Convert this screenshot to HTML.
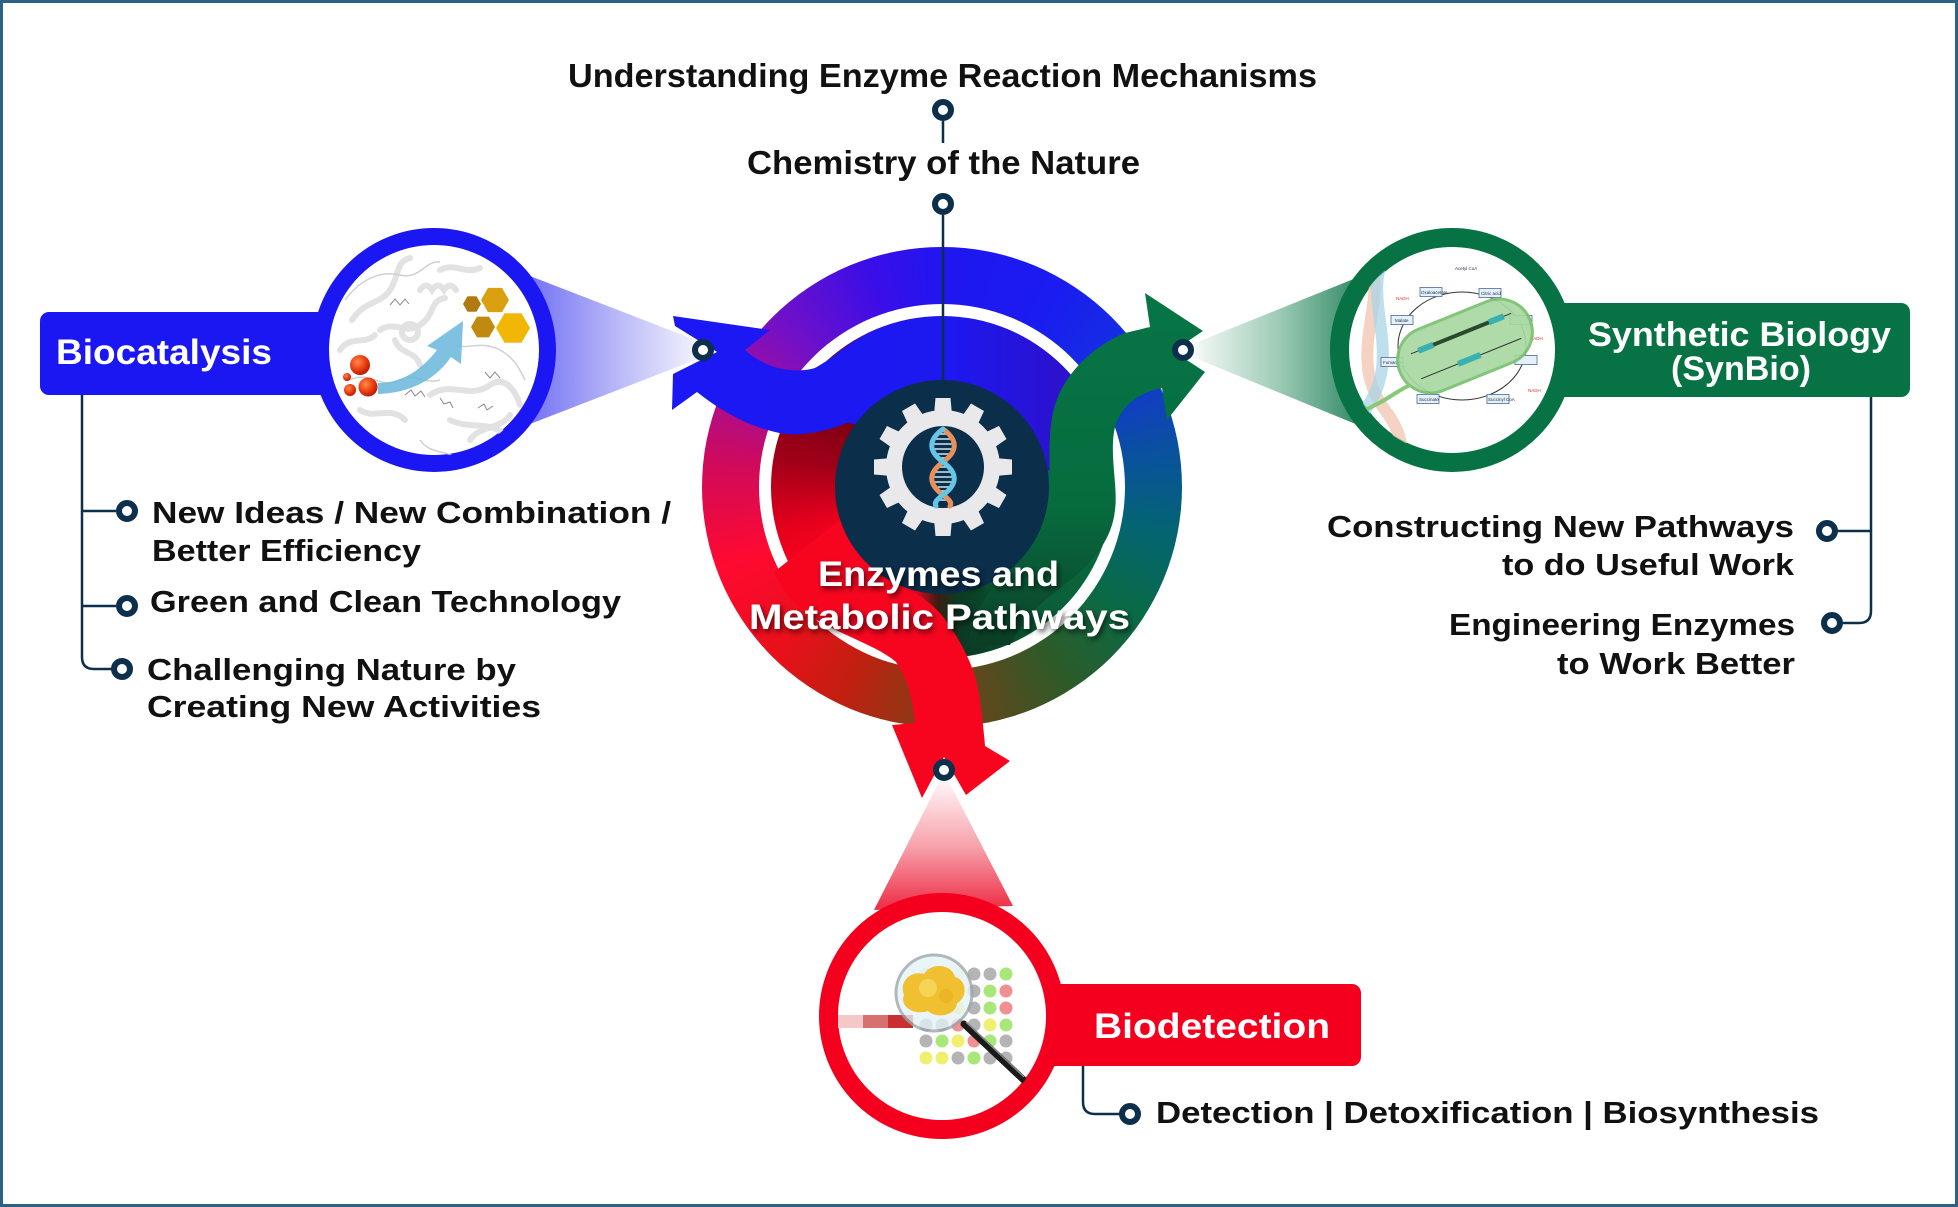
<!DOCTYPE html>
<html><head><meta charset="utf-8">
<style>
html,body{margin:0;padding:0;background:#fff;}
#wrap{position:relative;width:1958px;height:1207px;overflow:hidden;background:#fff;}
.ring{position:absolute;border-radius:50%;}
#outer{left:702px;top:247px;width:480px;height:480px;
background:conic-gradient(#2016f0 0deg,#1a1cf0 30deg,#1530e0 54deg,#0a50a0 80deg,#036570 102deg,#0a6a45 124deg,#2e5a28 148deg,#5a4a1e 167deg,#8a3a16 185deg,#c02010 205deg,#e8101a 225deg,#ff0a30 250deg,#d00a5a 276deg,#a00ea0 298deg,#7010c8 316deg,#3a0ee8 342deg,#2016f0 360deg);}
#gap{left:759px;top:304px;width:366px;height:366px;background:#fff;}
#inner{left:771px;top:316px;width:342px;height:342px;
background:conic-gradient(#1c18f0 0deg,#2214e4 35deg,#3010c4 62deg,#12508a 78deg,#08703f 95deg,#0a5e38 140deg,#0a4428 162deg,#0b3a22 172deg,#3a1e12 182deg,#f2061c 195deg,#ff0820 230deg,#e6001c 255deg,#a00018 280deg,#7c0012 305deg,#5a0a60 322deg,#2a14d8 335deg,#1c18f0 360deg);}
svg{position:absolute;left:0;top:0;}
text{font-family:"Liberation Sans",Arial,sans-serif;font-weight:bold;}
</style></head>
<body><div id="wrap">
<div class="ring" id="outer"></div>
<div class="ring" id="gap"></div>
<div class="ring" id="inner"></div>
<svg width="1958" height="1207" viewBox="0 0 1958 1207" xmlns="http://www.w3.org/2000/svg">
<defs>
<linearGradient id="bbeam" x1="530" y1="0" x2="703" y2="0" gradientUnits="userSpaceOnUse">
<stop offset="0" stop-color="#7472f3"/><stop offset="0.5" stop-color="#b8b8f8"/><stop offset="1" stop-color="#f6f6ff"/></linearGradient>
<linearGradient id="gbeam" x1="1365" y1="0" x2="1195" y2="0" gradientUnits="userSpaceOnUse">
<stop offset="0" stop-color="#2a8560"/><stop offset="0.5" stop-color="#9ccab4"/><stop offset="1" stop-color="#f4f9f6"/></linearGradient>
<linearGradient id="rbeam" x1="0" y1="784" x2="0" y2="908" gradientUnits="userSpaceOnUse">
<stop offset="0" stop-color="#fff2f4"/><stop offset="0.5" stop-color="#f7a2ac"/><stop offset="1" stop-color="#ee2f47"/></linearGradient>
<linearGradient id="blueS" x1="670" y1="0" x2="1095" y2="0" gradientUnits="userSpaceOnUse">
<stop offset="0" stop-color="#1c18f4"/><stop offset="0.65" stop-color="#1c18f0"/><stop offset="1" stop-color="#3010c4"/></linearGradient>
<linearGradient id="greenS" x1="0" y1="295" x2="0" y2="645" gradientUnits="userSpaceOnUse">
<stop offset="0" stop-color="#077546"/><stop offset="0.6" stop-color="#066c3e"/><stop offset="0.85" stop-color="#0a5232"/><stop offset="1" stop-color="#0b3d25"/></linearGradient>
<radialGradient id="sph" cx="0.38" cy="0.35" r="0.7">
<stop offset="0" stop-color="#ff8a4a"/><stop offset="0.6" stop-color="#e83a10"/><stop offset="1" stop-color="#b01800"/></radialGradient>
<clipPath id="c1"><circle cx="434" cy="350" r="106"/></clipPath>
<clipPath id="c2"><circle cx="1452" cy="350" r="104"/></clipPath>
<clipPath id="c3"><circle cx="942" cy="1016" r="105"/></clipPath>
<filter id="sh" x="-10%" y="-40%" width="120%" height="180%">
<feDropShadow dx="2" dy="3" stdDeviation="3" flood-color="#000" flood-opacity="0.65"/></filter>
</defs>

<!-- frame -->
<rect x="1.5" y="1.5" width="1955" height="1204" fill="none" stroke="#2b6184" stroke-width="3"/>

<!-- beams -->
<polygon points="703,343 530,276 530,424 703,357" fill="url(#bbeam)"/>
<polygon points="1195,343 1356,278 1375,432 1195,358" fill="url(#gbeam)"/>
<polygon points="938,784 950,784 1013,906 874,910" fill="url(#rbeam)"/>

<!-- label bars -->
<rect x="40" y="312" width="400" height="83" rx="9" fill="#1b17f2"/>
<rect x="1446" y="303" width="464" height="94" rx="9" fill="#077244"/>
<rect x="936" y="984" width="425" height="82" rx="9" fill="#f4001e"/>

<!-- Biocatalysis circle -->
<circle cx="434" cy="350" r="113.5" fill="#fff" stroke="#1b17f2" stroke-width="17"/>
<g clip-path="url(#c1)">
<g fill="none" stroke="#e2e2e2" stroke-width="6" stroke-linecap="round">
<path d="M352,320 C365,300 380,305 390,290 C400,275 395,262 410,258"/>
<path d="M380,330 C395,320 405,335 420,325 C435,315 430,300 445,298"/>
<path d="M420,290 q6,-9 12,0 q6,-9 12,0 q6,-9 12,0"/>
<path d="M430,395 C450,380 470,400 490,385 C505,375 515,390 520,405"/>
<path d="M450,420 C470,430 490,420 505,435 C515,445 500,455 485,450"/>
<path d="M360,410 C375,420 390,405 405,420"/>
<path d="M395,340 C400,355 415,350 420,365"/>
<path d="M340,350 C350,335 365,345 375,335"/>
<path d="M470,440 C480,425 500,430 510,415"/>
<path d="M440,270 C455,262 465,275 480,268"/>
<circle cx="410" cy="332" r="8"/>
</g>
<g fill="none" stroke="#d0d0d0" stroke-width="1.5">
<path d="M345,300 C360,280 380,270 400,275 C420,280 425,260 440,262"/>
<path d="M350,380 C370,370 380,390 400,380 C415,372 425,385 440,380"/>
<path d="M455,345 C470,350 480,340 500,350 C515,358 520,370 525,380"/>
<path d="M420,440 C430,455 450,450 460,460"/>
</g>
<g fill="none" stroke="#8a8a8a" stroke-width="1">
<path d="M390,305 l5,-6 l5,6 l5,-6 l4,5"/>
<path d="M405,395 l6,-5 l4,6 l6,-5 l4,6"/>
<path d="M485,372 l5,6 l5,-6 l5,6"/>
<path d="M478,408 l6,-4 l3,6 l6,-4"/>
<path d="M440,398 l4,6 l6,-2 l3,6"/>
</g>
<path d="M378,383 C400,383 420,372 437,350 L427,346 L463,321 L461,364 L451,357 C435,380 410,393 378,394 Z" fill="#6cb8dc" opacity="0.88"/>
<circle cx="360" cy="365" r="10" fill="url(#sph)"/>
<circle cx="368" cy="387" r="9.5" fill="url(#sph)"/>
<circle cx="350" cy="390" r="6" fill="url(#sph)"/>
<circle cx="347" cy="377" r="4" fill="url(#sph)"/>
<polygon points="481,304 476.5,311.8 467.5,311.8 463,304 467.5,296.2 476.5,296.2" fill="#b07a10"/>
<polygon points="509,300 502,312.1 488,312.1 481,300 488,287.9 502,287.9" fill="#d9a010"/>
<polygon points="495,327 489,337.4 477,337.4 471,327 477,316.6 489,316.6" fill="#c08a10"/>
<polygon points="530,328 521.5,342.7 504.5,342.7 496,328 504.5,313.3 521.5,313.3" fill="#f2b705"/>
</g>

<!-- SynBio circle -->
<circle cx="1452" cy="350" r="112.5" fill="#fff" stroke="#077244" stroke-width="19"/>
<g clip-path="url(#c2)">
<path d="M1360,240 C1400,290 1340,350 1385,410 S1360,470 1405,490" fill="none" stroke="#f2c4b0" stroke-width="12" opacity="0.75"/>
<path d="M1395,240 C1350,290 1410,350 1365,410 S1390,470 1350,490" fill="none" stroke="#a8d4e6" stroke-width="12" opacity="0.75"/>
<ellipse cx="1462" cy="346" rx="64" ry="54" fill="none" stroke="#333" stroke-width="1"/>
<g fill="#e6f0fa" stroke="#4a6a9a" stroke-width="0.8">
<rect x="1420" y="287.5" width="22" height="9"/>
<rect x="1479" y="288.5" width="22" height="9"/>
<rect x="1510" y="315.5" width="22" height="9"/>
<rect x="1515" y="355.5" width="22" height="9"/>
<rect x="1487" y="394.5" width="22" height="9"/>
<rect x="1417" y="394.5" width="22" height="9"/>
<rect x="1381" y="357.5" width="22" height="9"/>
<rect x="1391" y="315.5" width="22" height="9"/>
</g>
<g font-size="4.5" fill="#234">
<text x="1421" y="294" style="font-weight:normal">Oxaloacetate</text>
<text x="1481" y="295" style="font-weight:normal">Citric acid</text>
<text x="1395" y="322" style="font-weight:normal">Malate</text>
<text x="1383" y="364" style="font-weight:normal">Fumarate</text>
<text x="1419" y="401" style="font-weight:normal">Succinate</text>
<text x="1488" y="401" style="font-weight:normal">Succinyl CoA</text>
<text x="1455" y="270" style="font-weight:normal">Acetyl CoA</text>
</g>
<g font-size="4.5" fill="#e03030">
<text x="1396" y="300" style="font-weight:normal">NADH</text>
<text x="1530" y="340" style="font-weight:normal">NADH</text>
<text x="1528" y="392" style="font-weight:normal">NADH</text>
</g>
<g transform="rotate(-22 1465 346)">
<rect x="1395" y="313" width="140" height="66" rx="33" fill="#a8d8a0" stroke="#78c070" stroke-width="3" opacity="0.92"/>
<line x1="1412" y1="333" x2="1520" y2="333" stroke="#333" stroke-width="1"/>
<rect x="1420" y="330" width="16" height="6" fill="#3ab0b0"/>
<rect x="1436" y="331" width="60" height="4" fill="#2a4a30"/>
<rect x="1496" y="330" width="16" height="6" fill="#3ab0b0"/>
<line x1="1412" y1="360" x2="1520" y2="360" stroke="#333" stroke-width="1"/>
<rect x="1452" y="357" width="24" height="6" fill="#3ab0b0"/>
</g>
<path d="M1410,385 C1395,392 1385,402 1360,412" fill="none" stroke="#88c878" stroke-width="4"/>
</g>

<!-- Biodetection circle -->
<circle cx="942" cy="1016" r="113.5" fill="#fff" stroke="#f4001e" stroke-width="19"/>
<g clip-path="url(#c3)">
<rect x="838" y="1015" width="25" height="13" fill="#f3c8c8"/>
<rect x="863" y="1015" width="25" height="13" fill="#d87070"/>
<rect x="888" y="1015" width="25" height="13" fill="#c83030"/>
<g>
<circle cx="926" cy="974" r="6.5" fill="#ccd" opacity="0.6"/><circle cx="942" cy="974" r="6.5" fill="#e8c0d0" opacity="0.6"/><circle cx="958" cy="974" r="6.5" fill="#eef0b0" opacity="0.6"/><circle cx="974" cy="974" r="6.5" fill="#b4b4b4"/><circle cx="990" cy="974" r="6.5" fill="#b4b4b4"/><circle cx="1006" cy="974" r="6.5" fill="#a8e878"/>
<circle cx="974" cy="991" r="6.5" fill="#b4b4b4"/><circle cx="990" cy="991" r="6.5" fill="#a8e878"/><circle cx="1006" cy="991" r="6.5" fill="#f09090"/>
<circle cx="958" cy="1008" r="6.5" fill="#f0f070"/><circle cx="974" cy="1008" r="6.5" fill="#b4b4b4"/><circle cx="990" cy="1008" r="6.5" fill="#a8e878"/><circle cx="1006" cy="1008" r="6.5" fill="#f09090"/>
<circle cx="926" cy="1025" r="6.5" fill="#b4b4b4"/><circle cx="942" cy="1025" r="6.5" fill="#b4b4b4"/><circle cx="958" cy="1025" r="6.5" fill="#f09090"/><circle cx="974" cy="1025" r="6.5" fill="#b4b4b4"/><circle cx="990" cy="1025" r="6.5" fill="#f0f070"/><circle cx="1006" cy="1025" r="6.5" fill="#a8e878"/>
<circle cx="926" cy="1041" r="6.5" fill="#b4b4b4"/><circle cx="942" cy="1041" r="6.5" fill="#a8e878"/><circle cx="958" cy="1041" r="6.5" fill="#f0f070"/><circle cx="974" cy="1041" r="6.5" fill="#f09090"/><circle cx="990" cy="1041" r="6.5" fill="#a8e878"/><circle cx="1006" cy="1041" r="6.5" fill="#b4b4b4"/>
<circle cx="926" cy="1058" r="6.5" fill="#f0f070"/><circle cx="942" cy="1058" r="6.5" fill="#f0f070"/><circle cx="958" cy="1058" r="6.5" fill="#b4b4b4"/><circle cx="974" cy="1058" r="6.5" fill="#a8e878"/><circle cx="990" cy="1058" r="6.5" fill="#b4b4b4"/><circle cx="1006" cy="1058" r="6.5" fill="#b4b4b4"/>
</g>
<line x1="964" y1="1024" x2="1028" y2="1084" stroke="#1a1a1a" stroke-width="7" stroke-linecap="round"/>
<line x1="966" y1="1022" x2="1024" y2="1077" stroke="#888" stroke-width="1.5"/>
<circle cx="934" cy="993" r="38" fill="#e4f2f8" opacity="0.78" stroke="#9aa4aa" stroke-width="3"/>
<path d="M904,995 C899,982 910,970 924,974 C931,962 952,964 955,977 C967,980 968,998 957,1003 C956,1016 936,1019 928,1011 C914,1016 899,1006 904,995 Z" fill="#f0c030"/>
<circle cx="928" cy="988" r="9" fill="#f6d860" opacity="0.8"/>
<circle cx="946" cy="996" r="7" fill="#e8b020" opacity="0.7"/>
</g>

<!-- swooshes -->
<path d="M673,316 L770,330 L745,350 C762,366 790,375 815,368 C822,364 828,360 833,357 A171,171 0 0 1 1090,401 L1050,470 L900,470 C875,430 862,424 847,423 C820,434 793,437 775,432 C745,425 720,410 697,392 L672,410 L673,374 L717,352 L675,326 Z" fill="url(#blueS)"/>
<path d="M1150,327 L1145,293 L1203,331 L1173,351 L1205,372 L1167,420 L1162,388 C1138,392 1118,408 1114,432 C1110,458 1118,488 1115,510 C1112,540 1092,565 1060,588 C1040,603 1022,620 1010,645 L968,645 C972,620 982,598 1002,578 C1026,556 1046,535 1049,500 C1051,470 1046,430 1056,402 C1066,372 1095,345 1125,333 Z" fill="url(#greenS)"/>
<path d="M889,579 C905,586 932,600 947,622 C963,645 975,668 979,694 C982,716 984,733 985,746 L1010,761 L966,795 L944,757 L922,798 L892,725 L915,723 C913,700 907,678 896,662 C880,648 850,638 820,622 C798,608 782,592 774,572 L840,520 L880,540 Z" fill="#f7051f"/>

<!-- top connector line -->
<line x1="943" y1="121" x2="943" y2="143" stroke="#0c2f4c" stroke-width="2.5"/>
<line x1="943" y1="215" x2="943" y2="385" stroke="#0c2f4c" stroke-width="2.5"/>

<!-- navy centre -->
<circle cx="942" cy="487" r="107" fill="#0b2e4b"/>
<g fill="#e9e9eb">
<circle cx="943" cy="467" r="57"/>
<polygon points="935.5,398 950.5,398 952,415 934,415" transform="rotate(0 943 467)"/>
<polygon points="935.5,398 950.5,398 952,415 934,415" transform="rotate(30 943 467)"/>
<polygon points="935.5,398 950.5,398 952,415 934,415" transform="rotate(60 943 467)"/>
<polygon points="935.5,398 950.5,398 952,415 934,415" transform="rotate(90 943 467)"/>
<polygon points="935.5,398 950.5,398 952,415 934,415" transform="rotate(120 943 467)"/>
<polygon points="935.5,398 950.5,398 952,415 934,415" transform="rotate(150 943 467)"/>
<polygon points="935.5,398 950.5,398 952,415 934,415" transform="rotate(180 943 467)"/>
<polygon points="935.5,398 950.5,398 952,415 934,415" transform="rotate(210 943 467)"/>
<polygon points="935.5,398 950.5,398 952,415 934,415" transform="rotate(240 943 467)"/>
<polygon points="935.5,398 950.5,398 952,415 934,415" transform="rotate(270 943 467)"/>
<polygon points="935.5,398 950.5,398 952,415 934,415" transform="rotate(300 943 467)"/>
<polygon points="935.5,398 950.5,398 952,415 934,415" transform="rotate(330 943 467)"/>
</g>
<circle cx="943" cy="467" r="41" fill="#0b2e4b"/>
<g stroke="#cfe6ee" stroke-width="1.5">
<line x1="938" y1="434" x2="948" y2="434"/><line x1="934" y1="439" x2="952" y2="439"/><line x1="932" y1="444" x2="954" y2="444"/><line x1="933" y1="449" x2="953" y2="449"/><line x1="935.5" y1="454" x2="950.5" y2="454"/><line x1="939" y1="458" x2="947" y2="458"/>
<line x1="938" y1="467" x2="948" y2="467"/><line x1="934" y1="472" x2="952" y2="472"/><line x1="932" y1="477" x2="954" y2="477"/><line x1="933" y1="482" x2="953" y2="482"/><line x1="935.5" y1="487" x2="950.5" y2="487"/><line x1="939" y1="491" x2="947" y2="491"/><line x1="938" y1="500" x2="948" y2="500"/>
</g>
<path d="M943,429 C958,440 958,451 943,462 C928,473 928,484 943,495 C950,500 952,503 950,506" fill="none" stroke="#e8905a" stroke-width="5" stroke-linecap="round"/>
<path d="M943,429 C928,440 928,451 943,462 C958,473 958,484 943,495 C936,500 934,503 936,506" fill="none" stroke="#66c6e6" stroke-width="5" stroke-linecap="round"/>

<!-- centre text -->
<g fill="#fff" font-size="35" filter="url(#sh)">
<text x="818" y="586" textLength="241" lengthAdjust="spacingAndGlyphs">Enzymes and</text>
<text x="749" y="629" textLength="381" lengthAdjust="spacingAndGlyphs">Metabolic Pathways</text>
</g>

<!-- connectors -->
<g fill="none" stroke="#0c2f4c" stroke-width="2.5">
<path d="M82,395 V657 Q82,669 94,669 H112"/>
<path d="M82,511 H116"/>
<path d="M82,606 H116"/>
<path d="M1871,397 V611 Q1871,623 1859,623 H1843"/>
<path d="M1871,531 H1838"/>
<path d="M1083,1066 V1102 Q1083,1114 1095,1114 H1120"/>
</g>

<!-- dots -->
<g fill="#fff" stroke="#0c2f4c" stroke-width="6">
<circle cx="943" cy="110" r="8"/>
<circle cx="943" cy="204" r="8"/>
<circle cx="703" cy="350" r="8"/>
<circle cx="1183" cy="350" r="8"/>
<circle cx="944" cy="770" r="8"/>
<circle cx="127" cy="511" r="8"/>
<circle cx="127" cy="606" r="8"/>
<circle cx="122" cy="669" r="8"/>
<circle cx="1827" cy="531" r="8"/>
<circle cx="1832" cy="623" r="8"/>
<circle cx="1130" cy="1114" r="8"/>
</g>

<!-- label texts -->
<g fill="#fff">
<text x="56" y="364" font-size="35" textLength="216" lengthAdjust="spacingAndGlyphs">Biocatalysis</text>
<text x="1588" y="346" font-size="34" textLength="303" lengthAdjust="spacingAndGlyphs">Synthetic Biology</text>
<text x="1671" y="380" font-size="34" textLength="140" lengthAdjust="spacingAndGlyphs">(SynBio)</text>
<text x="1094" y="1038" font-size="35" textLength="236" lengthAdjust="spacingAndGlyphs">Biodetection</text>
</g>

<!-- black texts -->
<g fill="#111">
<text x="568" y="87" font-size="33" textLength="749" lengthAdjust="spacingAndGlyphs">Understanding Enzyme Reaction Mechanisms</text>
<text x="747" y="174" font-size="33" textLength="393" lengthAdjust="spacingAndGlyphs">Chemistry of the Nature</text>
<text x="152" y="523" font-size="31" textLength="519" lengthAdjust="spacingAndGlyphs">New Ideas / New Combination /</text>
<text x="152" y="561" font-size="31" textLength="269" lengthAdjust="spacingAndGlyphs">Better Efficiency</text>
<text x="150" y="612" font-size="31" textLength="471" lengthAdjust="spacingAndGlyphs">Green and Clean Technology</text>
<text x="147" y="680" font-size="31" textLength="369" lengthAdjust="spacingAndGlyphs">Challenging Nature by</text>
<text x="147" y="717" font-size="31" textLength="394" lengthAdjust="spacingAndGlyphs">Creating New Activities</text>
<text x="1327" y="537" font-size="31" textLength="467" lengthAdjust="spacingAndGlyphs">Constructing New Pathways</text>
<text x="1502" y="575" font-size="31" textLength="292" lengthAdjust="spacingAndGlyphs">to do Useful Work</text>
<text x="1449" y="635" font-size="31" textLength="346" lengthAdjust="spacingAndGlyphs">Engineering Enzymes</text>
<text x="1557" y="674" font-size="31" textLength="238" lengthAdjust="spacingAndGlyphs">to Work Better</text>
<text x="1156" y="1123" font-size="31" textLength="663" lengthAdjust="spacingAndGlyphs">Detection | Detoxification | Biosynthesis</text>
</g>
</svg>
</div></body></html>
